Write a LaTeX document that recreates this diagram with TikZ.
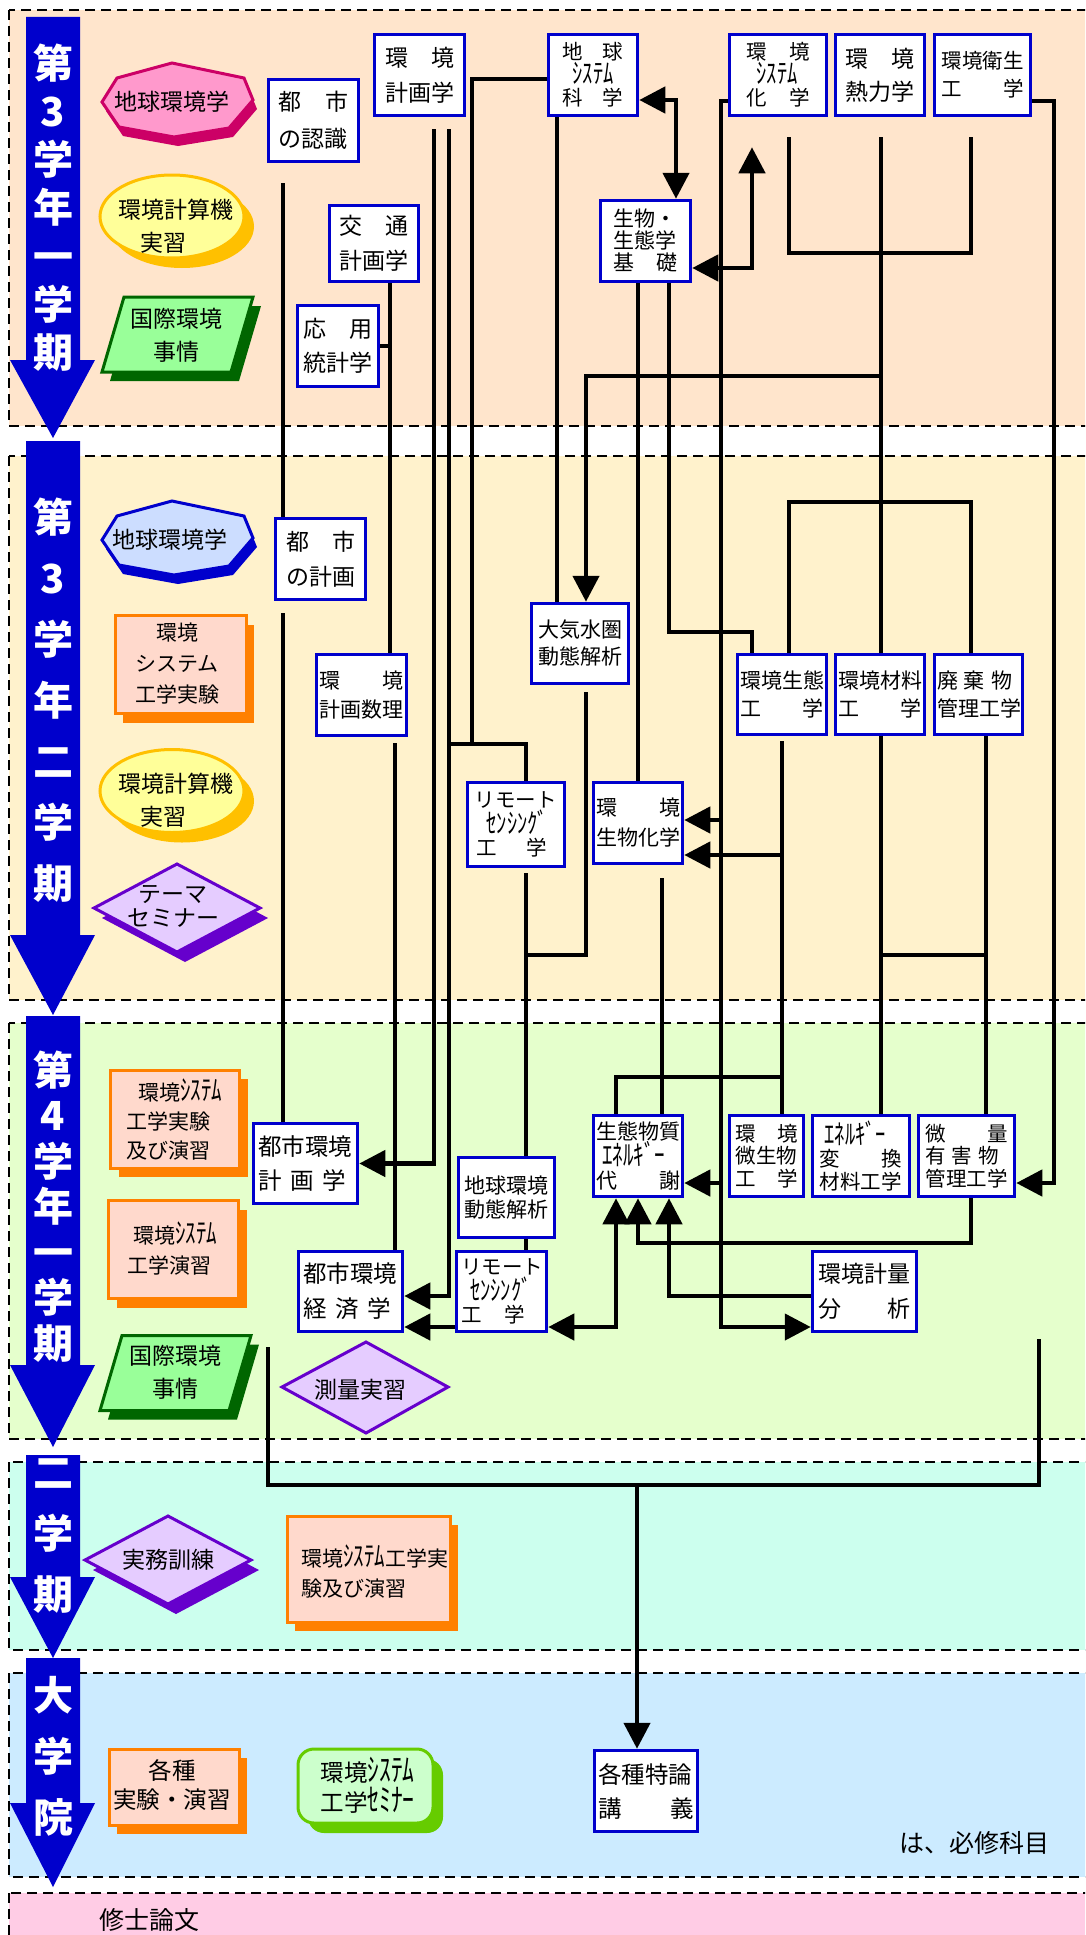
\documentclass[tikz,border=0pt]{standalone}
\usepackage{fontspec}
\setmainfont{Noto Sans CJK JP}
\usetikzlibrary{arrows.meta,calc}

\definecolor{kblue}{HTML}{0000CC}
\definecolor{bandA}{HTML}{FFE5CC}
\definecolor{bandB}{HTML}{FFF2CC}
\definecolor{bandC}{HTML}{E5FFCC}
\definecolor{bandD}{HTML}{CCFFEE}
\definecolor{bandE}{HTML}{CCEBFF}
\definecolor{bandF}{HTML}{FFCCE5}
\definecolor{octpink}{HTML}{FF99CC}
\definecolor{octline}{HTML}{CC0066}
\definecolor{octblue}{HTML}{CCDDFF}
\definecolor{yfill}{HTML}{FFFF99}
\definecolor{yline}{HTML}{FFC000}
\definecolor{gfill}{HTML}{99FF99}
\definecolor{gdark}{HTML}{006600}
\definecolor{ofill}{HTML}{FFD9CC}
\definecolor{oline}{HTML}{FF8000}
\definecolor{pfill}{HTML}{E5CCFF}
\definecolor{pline}{HTML}{6600CC}
\definecolor{lgfill}{HTML}{CCFFCC}
\definecolor{lgline}{HTML}{66CC00}

\newcommand\kfs[2]{\fontsize{#1pt}{#2pt}\selectfont}
% half-width katakana, drawn taller as in the original
\newcommand\hw[1]{\scalebox{1}[1.35]{#1}}
% blue semester arrow: top, start of head, tip
\newcommand\semarrow[3]{\fill[kblue] (26,#1) -- (80,#1) -- (80,#2) -- (95,#2) -- (53,#3) -- (10,#2) -- (26,#2) -- cycle;}

\tikzset{
  band/.style={draw=black, line width=1.6pt, dash pattern=on 10pt off 6pt},
  kbox/.style={draw=kblue, line width=3.5pt, fill=white, inner sep=0pt, align=left},
  link/.style={line width=4.5pt},
  arr/.style={link, -{Triangle[length=26pt,width=26pt]}},
  arr2/.style={link, {Triangle[length=26pt,width=26pt]}-{Triangle[length=26pt,width=26pt]}},
  yr/.style={text=white, font=\bfseries\kfs{40}{48.2}, align=center, inner sep=0pt},
  lbl/.style={inner sep=0pt, font=\kfs{23}{33}, align=center},
  obox/.style={fill=ofill, draw=oline, line width=3pt},
  pdia/.style={fill=pfill, draw=pline, line width=3pt},
  pics/octo/.style 2 args={code={
    \fill[#2] (-66,11) -- (-51,-13) -- (4,-28) -- (76,-13) -- (85,9) -- (61,37) -- (6,46) -- (-49,36) -- cycle;
    \filldraw[fill=#1, draw=#2, line width=3pt] (-70,2) -- (-55,-22) -- (0,-37) -- (72,-22) -- (81,0) -- (57,28) -- (2,37) -- (-53,27) -- cycle;
  }},
  pics/ell/.style={code={
    \fill[yline] (10,10) ellipse [x radius=72, y radius=41.5];
    \filldraw[fill=yfill, draw=yline, line width=3pt] (0,0) ellipse [x radius=72, y radius=41.5];
  }},
  pics/para/.style={code={
    \fill[gdark] (-45.5,-28.5) -- (83.5,-28.5) -- (61.5,46.5) -- (-67.5,46.5) -- cycle;
    \filldraw[fill=gfill, draw=gdark, line width=3pt] (-53.5,-37.5) -- (75.5,-37.5) -- (53.5,37.5) -- (-75.5,37.5) -- cycle;
  }},
  pics/dia/.style={code={
    \fill[pline] (-75,10) -- (8,-34) -- (91,10) -- (8,54) -- cycle;
    \filldraw[pdia] (-83,0) -- (0,-44) -- (83,0) -- (0,44) -- cycle;
  }}
}

\begin{document}
\begin{tikzpicture}[x=1pt,y=-1pt]
\useasboundingbox (0,0) rectangle (1085,1935);
\clip (0,0) rectangle (1085,1935);

% semester bands
\draw[band, fill=bandA] (9,10) rectangle (1100,426);
\draw[band, fill=bandB] (9,456) rectangle (1100,1000);
\draw[band, fill=bandC] (9,1023) rectangle (1100,1439);
\draw[band, fill=bandD] (9,1462) rectangle (1100,1650);
\draw[band, fill=bandE] (9,1673) rectangle (1100,1877);
\draw[band, fill=bandF] (9,1893) rectangle (1100,1960);

\semarrow{17}{360}{438}
\semarrow{441}{935}{1015}
\semarrow{1016}{1365}{1447}
\semarrow{1455}{1577}{1658}
\semarrow{1658}{1803}{1887}
\node[yr] (semA) at (53,207.5) {第\\3\\学\\年\\一\\学\\期};
\node[yr, font=\bfseries\kfs{40}{61}] (semB) at (53,700) {第\\3\\学\\年\\二\\学\\期};
\node[yr, font=\bfseries\kfs{40}{45.5}] (semC) at (53,1206.5) {第\\4\\学\\年\\一\\学\\期};
\node[yr, font=\bfseries\kfs{40}{61}] (semD) at (53,1536) {二\\学\\期};
\node[yr, font=\bfseries\kfs{40}{61}] (grad) at (53,1756) {大\\学\\院};

% electives, left column
\pic at (172,100) {octo={octpink}{octline}};
\node[lbl] (geoA) at (172,102) {地球環境学};
\pic at (172,216.5) {ell};
\node[lbl, align=left] (compA) at (175.5,226) {環境計算機\\\hspace*{22pt}実習};
\pic at (177.5,334.5) {para};
\node[lbl] (intlA) at (176,335.5) {国際環境\\事情};

\pic at (172,538) {octo={octblue}{kblue}};
\node[lbl] (geoB) at (170,540) {地球環境学};
\fill[oline] (123,625) rectangle (254,723);
\filldraw[obox] (115,615) rectangle (246,713);
\node[lbl, font=\kfs{21}{31}] (sysexpA) at (177,664) {環境\\システム\\工学実験};
\pic at (172,791) {ell};
\node[lbl, align=left] (compB) at (175.5,800) {環境計算機\\\hspace*{22pt}実習};
\pic at (177,908) {dia};
\node[lbl, font=\kfs{23}{24}] (theme) at (173,906) {テーマ\\セミナー};

\fill[oline] (119,1079) rectangle (248,1177);
\filldraw[obox] (110,1070) rectangle (239,1168);
\node[lbl, font=\kfs{21}{29}, align=left, anchor=west] (sysexpB) at (126,1119) {\hspace*{12pt}環境\hw{ｼｽﾃﾑ}\\工学実験\\及び演習};
\fill[oline] (117,1210) rectangle (247,1308);
\filldraw[obox] (108,1200) rectangle (238,1298);
\node[lbl, font=\kfs{21}{30}, align=left, anchor=west] (syspra) at (127,1248) {\hspace*{6pt}環境\hw{ｼｽﾃﾑ}\\工学演習};
\pic at (175.5,1373) {para};
\node[lbl] (intlB) at (175,1372.5) {国際環境\\事情};
\filldraw[pdia] (282,1387) -- (366,1342) -- (448,1387) -- (366,1433) -- cycle;
\node[lbl] (survey) at (360,1390) {測量実習};

\pic at (168,1560) {dia};
\node[lbl] (intern) at (168,1560) {実務訓練};
\fill[oline] (295,1525) rectangle (458,1631);
\filldraw[obox] (287,1516) rectangle (450,1622);
\node[lbl, font=\kfs{21}{30}, align=left, anchor=west] (sysexpC) at (301,1571) {環境\hw{ｼｽﾃﾑ}工学実\\験及び演習};

\fill[oline] (117,1758) rectangle (247,1834);
\filldraw[obox] (109,1749) rectangle (239,1825);
\node[lbl, font=\kfs{23.5}{29}] (various) at (172,1784.5) {各種\\実験・演習};
\fill[lgline, rounded corners=16] (308,1759) rectangle (443,1833);
\filldraw[fill=lgfill, draw=lgline, line width=3pt, rounded corners=16] (298,1749) rectangle (433,1823);
\node[lbl, align=left, font=\kfs{23.5}{30}] (seminar) at (367.5,1785) {環境\hw{ｼｽﾃﾑ}\\工学\hw{ｾﾐﾅｰ}};
\node[lbl, font=\kfs{25}{30}] (legend) at (974,1843) {は、必修科目};
\node[lbl, font=\kfs{25}{30}] (thesis) at (149,1920) {修士論文};

% required courses
\node[kbox, minimum width=90, minimum height=82, text width=70, font=\kfs{23}{37}] (toshinin) at (313.5,120.5) {都\hfill{}市\\の認識};
\node[kbox, minimum width=90, minimum height=81, text width=69, font=\kfs{23}{35}] (kankei) at (419.5,75) {環\hfill{}境\\計画学};
\node[kbox, minimum width=89, minimum height=81, text width=61, font=\kfs{20.5}{22.5}] (chikyusys) at (593,75) {地\hfill{}球\\\hspace*{10pt}\hw{ｼｽﾃﾑ}\\科\hfill{}学};
\node[kbox, minimum width=97, minimum height=81, text width=63, font=\kfs{20.5}{22.5}] (kanchem) at (778,75) {環\hfill{}境\\\hspace*{10pt}\hw{ｼｽﾃﾑ}\\化\hfill{}学};
\node[kbox, minimum width=89, minimum height=81, text width=69, font=\kfs{23}{33}] (netsu) at (880,75) {環\hfill{}境\\熱力学};
\node[kbox, minimum width=96, minimum height=81, text width=82, font=\kfs{20.5}{28}] (eisei) at (982.5,75) {環境衛生\\工\hfill{}学};
\node[kbox, minimum width=90, minimum height=81, text width=64, font=\kfs{21}{22}] (seibutsu) at (645.5,241) {生物・\\生態学\\基\hfill{}礎};
\node[kbox, minimum width=89, minimum height=76, text width=69, font=\kfs{23}{35}] (kotsu) at (374,243.5) {交\hfill{}通\\計画学};
\node[kbox, minimum width=81, minimum height=81, text width=69, font=\kfs{23}{34}] (oyo) at (338,346) {応\hfill{}用\\統計学};

\node[kbox, minimum width=90, minimum height=81, text width=69, font=\kfs{23}{35}] (toshikei) at (320.5,559) {都\hfill{}市\\の計画};
\node[kbox, minimum width=90, minimum height=81, text width=84, font=\kfs{21}{29}] (suri) at (361.5,695) {環\hfill{}境\\計画数理};
\node[kbox, minimum width=97, minimum height=80, text width=84, font=\kfs{21}{27}] (taiki) at (580,643.5) {大気水圏\\動態解析};
\node[kbox, minimum width=97, minimum height=84, text width=83, font=\kfs{20.5}{22}] (remoteA) at (516,824.5) {リモート\\\hspace*{12pt}\hw{ｾﾝｼﾝｸﾞ}\\\hspace*{2pt}工\hspace{30pt}学};
\node[kbox, minimum width=89, minimum height=81, text width=84, font=\kfs{21}{30}] (seibkag) at (638,823) {環\hfill{}境\\生物化学};
\node[kbox, minimum width=89, minimum height=80, text width=83, font=\kfs{21}{28}] (seitai) at (782,694.5) {環境生態\\工\hfill{}学};
\node[kbox, minimum width=89, minimum height=80, text width=83, font=\kfs{21}{28}] (zairyo) at (880,694.5) {環境材料\\工\hfill{}学};
\node[kbox, minimum width=88, minimum height=80, text width=83, font=\kfs{21}{28}] (haiki) at (978.5,694.5) {廃\hfill{}棄\hfill{}物\hspace{8pt}\mbox{}\\管理工学};

\node[kbox, minimum width=104, minimum height=80, text width=95, font=\kfs{23.5}{34}] (toshikankei) at (305.5,1163.5) {都市環境\\計\hspace{9pt}画\hspace{9pt}学};
\node[kbox, minimum width=96, minimum height=80, text width=84, font=\kfs{21}{24}] (dotai) at (506.5,1197.5) {地球環境\\動態解析};
\node[kbox, minimum width=104, minimum height=80, text width=95, font=\kfs{23.5}{35}] (toshikankz) at (350.5,1291.5) {都市環境\\経\hspace{9pt}済\hspace{9pt}学};
\node[kbox, minimum width=90, minimum height=80, text width=81, font=\kfs{20.5}{22.5}] (remoteB) at (501.5,1291.5) {リモート\\\hspace*{9pt}\hw{ｾﾝｼﾝｸﾞ}\\工\hspace{23pt}学};
\node[kbox, minimum width=89, minimum height=81, text width=84, font=\kfs{21}{23}] (taisha) at (638,1156) {生態物質\\\hspace*{6pt}\hw{ｴﾈﾙｷﾞｰ}\\代\hfill{}謝};
\node[kbox, minimum width=74, minimum height=81, text width=62, font=\kfs{20.5}{22.5}] (biseibutsu) at (766.5,1156) {環\hfill{}境\\微生物\\工\hfill{}学};
\node[kbox, minimum width=97, minimum height=81, text width=83, font=\kfs{20.5}{22.5}] (henkan) at (861,1156) {\hspace*{5pt}\hw{ｴﾈﾙｷﾞｰ}\\変\hfill{}換\\材料工学};
\node[kbox, minimum width=96, minimum height=81, text width=82, font=\kfs{20.5}{22.5}] (biryo) at (966.5,1156) {微\hfill{}量\\有\hspace{6pt}害\hspace{6pt}物\\管理工学};
\node[kbox, minimum width=104, minimum height=80, text width=93, font=\kfs{23}{35}] (keiryo) at (864.5,1291.5) {環境計量\\分\hfill{}析};
\node[kbox, minimum width=103, minimum height=81, text width=96, font=\kfs{23.5}{34}] (tokuron) at (646,1791) {各種特論\\講\hfill{}義};

% vertical buses and levels
\foreach \n/\x in {xa/283, xb/390, xc/395, xd/434, xe/449, xf/472, xh/526, xi/557, xj/586,
  xk/638, xl/669, xm/676, xn/721, xo/752, xp/789, xq/881, xr/971, xs/1054, xt/782,
  xu/662, xv/616, xw/986, xz/637}
  \coordinate (\n) at (\x,0);
\foreach \y in {79,100,101,253,268,376,502,632,744,820,855,955,1077,1183,1243,1296,1327,1485}
  \coordinate (y\y) at (0,\y);
\coordinate (riseL) at (268,1347);
\coordinate (riseR) at (1039,1339);

% prerequisites
\draw[link] ($(toshinin.south -| xa)+(0,20)$) -- (toshikei.north -| xa);
\draw[link] ($(toshikei.south -| xa)+(0,12)$) -- (toshikankei.north -| xa);
\draw[link] (kotsu.south -| xb) -- (suri.north -| xb);
\draw[link] (oyo.east) -- (oyo.east -| xb);
\draw[link] ($(suri.south -| xc)+(0,6)$) -- (toshikankz.north -| xc);
\draw[arr] ($(kankei.south -| xd)+(0,12)$) |- (toshikankei.east);
\draw[arr] ($(kankei.south -| xe)+(0,12)$) |- (toshikankz.east |- y1296);
\draw[link] (chikyusys.west |- y79) -| (xf |- y744);
\draw[link] (xe |- y744) -| (remoteA.north -| xh);
\draw[link] ($(remoteA.south -| xh)+(0,5)$) -- (dotai.north -| xh);
\draw[link] ($(taiki.south -| xj)+(0,7)$) |- (xh |- y955);
\draw[link] (dotai.south -| xh) -- (remoteB.north -| xh);
\draw[link] (chikyusys.south -| xi) -- (taiki.north -| xi);
\draw[arr2] (chikyusys.east |- y100) -| (seibutsu.north -| xm);
\draw[arr] (kanchem.west |- y101) -| (xn |- y1327) -- (keiryo.west |- y1327);
\draw[arr] (xn |- y820) -- (seibkag.east |- y820);
\draw[arr] (xn |- y1183) -- (taisha.east |- y1183);
\draw[arr2] (seibutsu.east |- y268) -| ($(kanchem.south -| xo)+(0,30)$);
\draw[link] ($(kanchem.south -| xp)+(0,20)$) |- (xr |- y253) -- ($(eisei.south -| xr)+(0,20)$);
\draw[link] ($(netsu.south -| xq)+(0,20)$) -- (zairyo.north -| xq);
\draw[arr] (xq |- y376) -| (taiki.north -| xj);
\draw[link] (seitai.north -| xp) |- (xr |- y502) -- (haiki.north -| xr);
\draw[link] (seibutsu.south -| xk) -- (seibkag.north -| xk);
\draw[link] (seibutsu.south -| xl) |- (xo |- y632) -- (seitai.north -| xo);
\draw[arr] (eisei.east |- y101) -| (xs |- y1183) -- (biryo.east |- y1183);
\draw[link] ($(seitai.south -| xt)+(0,5)$) -- (biseibutsu.north -| xt);
\draw[arr] (xt |- y855) -- (seibkag.east |- y855);
\draw[link] (xt |- y1077) -| (taisha.north -| xv);
\draw[link] ($(seibkag.south -| xu)+(0,13)$) -- (taisha.north -| xu);
\draw[link] (zairyo.south -| xq) -- (henkan.north -| xq);
\draw[link] (haiki.south -| xw) -- (biryo.north -| xw);
\draw[link] (xq |- y955) -- (xw |- y955);
\draw[arr] (biryo.south -| xr) |- (xk |- y1243) -- (taisha.south -| xk);
\draw[arr] (keiryo.west |- y1296) -| (taisha.south -| xl);
\draw[arr2] (remoteB.east |- y1327) -| (taisha.south -| xv);
\draw[arr] (remoteB.west |- y1327) -- (toshikankz.east |- y1327);
\draw[link] (riseL) |- (riseR |- y1485) -- (riseR);
\draw[arr] (xz |- y1485) -- (tokuron.north -| xz);
\end{tikzpicture}
\end{document}
